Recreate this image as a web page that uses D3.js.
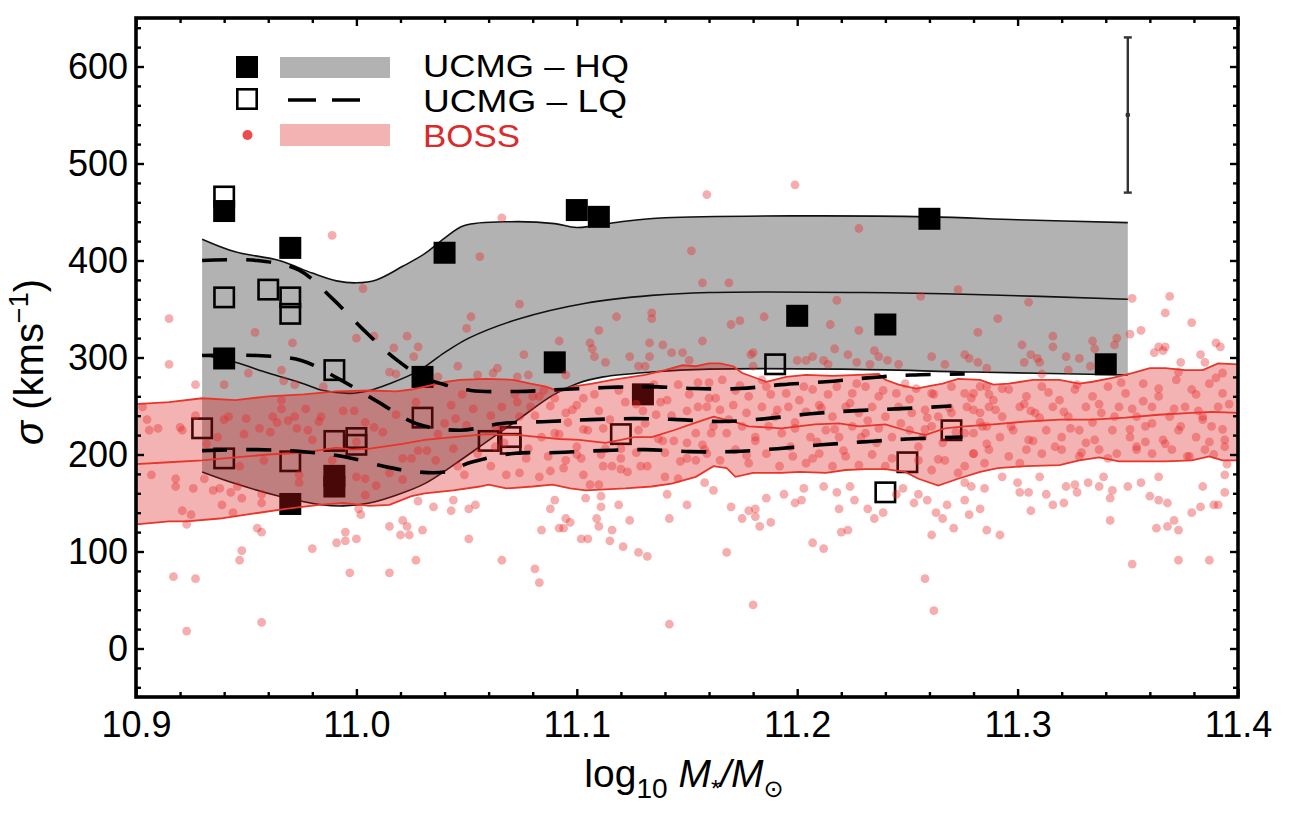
<!DOCTYPE html>
<html lang="en">
<head>
<meta charset="UTF-8" />
<title>UCMG vs BOSS velocity dispersion</title>
<script src="https://d3js.org/d3.v7.min.js"></script>
<style>
  body { margin: 0; background: #fff; }
  svg { display: block; font-family: "Liberation Sans", Arial, Helvetica, sans-serif; }
</style>
</head>
<body>
<svg id="chart" width="1296" height="816"></svg>
<script>
// ---- data ----
const xTicks = [10.9, 11.0, 11.1, 11.2, 11.3, 11.4];
const xTickLabels = ["10.9", "11.0", "11.1", "11.2", "11.3", "11.4"];
const yTicks = [0, 100, 200, 300, 400, 500, 600];

// UCMG high quality (filled squares)
const hqX = [10.94, 10.97, 11.04, 11.10, 11.11, 11.26, 10.94, 11.03, 11.09, 11.20, 11.24, 11.34, 11.13, 10.99, 10.99, 10.97];
const hqY = [451, 413, 408, 452, 445, 443, 299, 280, 295, 343, 334, 293, 262, 178, 167, 149];

// UCMG low quality (open squares)
const lqX = [10.94, 10.94, 10.96, 10.97, 10.97, 10.99, 11.03, 10.93, 10.94, 10.97, 10.99, 11.00, 11.00, 11.06, 11.07, 11.07, 11.12, 11.19, 11.27, 11.25, 11.24];
const lqY = [466, 362, 370, 362, 345, 287, 238, 227, 196, 193, 214, 217, 210, 214, 218, 211, 221, 293, 225, 192, 161];

// HQ band: upper, median, lower
const hqUpper = [[10.93,422],[10.945,409],[10.965,400],[10.98,387],[10.991,379],[11.0,377],[11.009,380],[11.021,394],[11.031,407],[11.04,423],[11.049,436],[11.07,440],[11.09,438],[11.1,434],[11.12,440],[11.14,444],[11.2,446],[11.26,445],[11.3,442],[11.35,439]];
const hqMedian = [[10.93,303],[10.945,295],[10.96,284],[10.976,273],[10.985,266],[10.997,263],[11.006,266],[11.015,273],[11.028,286],[11.04,305],[11.051,320],[11.074,340],[11.104,356],[11.134,364],[11.16,367],[11.23,367],[11.28,365],[11.35,360]];
const hqLower = [[10.93,182],[10.945,170],[10.965,157],[10.985,148],[10.994,147],[11.006,150],[11.018,158],[11.031,170],[11.044,189],[11.059,213],[11.074,237],[11.089,261],[11.1,273],[11.112,280],[11.134,285],[11.16,288],[11.22,288],[11.28,285],[11.35,282]];

// LQ dashed: upper, median, lower
const lqUpper = [[10.93,400],[10.955,400],[10.974,390],[10.989,361],[11.003,329],[11.018,298],[11.03,280],[11.04,272],[11.052,266],[11.073,265],[11.093,267],[11.113,269],[11.133,270],[11.153,268],[11.174,268],[11.193,272],[11.213,275],[11.232,279],[11.252,282],[11.276,283]];
const lqMedian = [[10.93,302],[10.955,302],[10.975,297],[10.992,278],[11.01,254],[11.027,232],[11.047,225],[11.066,232],[11.087,234],[11.106,236],[11.126,237],[11.146,236],[11.166,234],[11.186,237],[11.206,242],[11.225,245],[11.245,247],[11.27,250]];
const lqLower = [[10.93,204],[10.955,205],[10.975,203],[10.994,198],[11.014,187],[11.028,182],[11.04,182],[11.052,192],[11.071,201],[11.091,202],[11.111,204],[11.131,205],[11.151,203],[11.171,203],[11.191,206],[11.211,210],[11.23,213],[11.25,216],[11.275,218]];

// BOSS running percentiles
const bossUpper = [[10.9,252],[10.915,254],[10.93,258],[10.945,256],[10.96,260],[10.976,262],[10.991,265],[11.006,266],[11.018,265],[11.025,267],[11.031,270],[11.041,275],[11.047,277],[11.059,278],[11.071,277],[11.079,273],[11.086,270],[11.092,265],[11.098,270],[11.107,273],[11.116,277],[11.122,279],[11.131,282],[11.14,287],[11.148,292],[11.154,291],[11.16,294],[11.165,294],[11.171,291],[11.175,284],[11.186,275],[11.195,280],[11.204,282],[11.216,281],[11.228,282],[11.237,283],[11.24,277],[11.246,272],[11.254,268],[11.261,271],[11.266,273],[11.273,278],[11.283,277],[11.289,272],[11.296,273],[11.307,277],[11.319,277],[11.328,273],[11.334,275],[11.343,279],[11.352,284],[11.36,289],[11.367,289],[11.376,287],[11.384,287],[11.391,294],[11.4,293]];
const bossMedian = [[10.9,190],[10.915,192],[10.93,194],[10.945,197],[10.96,200],[10.976,202],[10.985,205],[10.991,207],[10.998,205],[11.006,206],[11.021,211],[11.031,215],[11.044,218],[11.059,221],[11.074,220],[11.083,218],[11.092,216],[11.101,215],[11.113,212],[11.12,215],[11.126,218],[11.134,218],[11.144,225],[11.153,232],[11.162,239],[11.171,234],[11.178,229],[11.193,227],[11.208,231],[11.219,232],[11.228,229],[11.24,231],[11.249,225],[11.258,220],[11.267,227],[11.276,229],[11.289,231],[11.304,234],[11.319,236],[11.334,236],[11.349,238],[11.364,241],[11.379,243],[11.388,244],[11.4,243]];
const bossLower = [[10.9,128],[10.915,131],[10.923,131],[10.938,134],[10.953,139],[10.968,144],[10.983,148],[10.994,150],[11.006,147],[11.015,148],[11.025,157],[11.031,160],[11.044,163],[11.056,167],[11.06,169],[11.068,165],[11.08,167],[11.089,169],[11.097,165],[11.104,163],[11.113,164],[11.122,165],[11.134,167],[11.143,170],[11.154,177],[11.162,188],[11.168,186],[11.172,177],[11.18,181],[11.193,181],[11.201,182],[11.213,181],[11.222,184],[11.231,185],[11.24,185],[11.249,182],[11.255,175],[11.264,168],[11.273,175],[11.283,182],[11.291,186],[11.304,188],[11.319,189],[11.328,194],[11.337,197],[11.346,193],[11.358,193],[11.367,193],[11.379,194],[11.387,198],[11.393,194],[11.4,194]];

// BOSS galaxies (x = log10 M*, y = sigma)
const bossPoints = [
  [10.989,426],[10.915,340],[10.915,293],[10.927,272],[11.003,371],[10.954,326],[10.971,315],[11.0,320],[11.008,322],[11.023,322],[11.028,311],[11.026,301],[11.017,310],[10.966,287],[10.951,284],[10.94,272],[10.967,276],[10.972,272],[10.985,270],[11.015,285],[11.018,283],
  [10.903,249],[10.905,236],[10.906,225],[10.91,227],[10.92,228],[10.921,225],[10.927,240],[10.932,211],[10.937,218],[10.94,236],[10.942,239],[10.95,237],[10.949,221],[10.956,227],[10.958,194],[10.961,223],[10.962,239],[10.964,233],[10.966,247],[10.966,256],[10.969,235],[10.972,239],[10.973,227],[10.977,247],[10.978,225],[10.98,215],[10.983,234],[10.984,239],[10.989,194],[10.994,245],[10.999,245],[11.0,213],[11.004,233],[11.008,228],[11.012,223],[11.015,181],[11.018,241],[11.021,196],[11.025,196],[11.027,254],[11.028,204],
  [10.907,179],[10.918,175],[10.918,167],[10.926,165],[10.931,175],[10.935,163],[10.938,165],[10.943,161],[10.946,167],[10.948,155],[10.957,159],[10.957,150],[10.921,142],[10.925,138],[10.939,148],[10.944,140],[10.923,128],[10.947,188],[10.974,179],[10.974,171],[11.0,177],[11.004,175],[11.004,158],[11.009,168],[11.021,174],[11.028,152],[11.001,144],[11.002,138],
  [10.955,124],[10.957,120],[10.948,101],[10.947,91],[10.917,74],[10.927,72],[10.923,18],[10.957,27],[10.98,103],[10.991,109],[10.995,120],[10.995,111],[11.0,113],[10.997,78],[11.015,126],[11.021,132],[11.023,126],[11.02,117],[11.024,117],[11.03,122],[11.027,91],[11.015,78],
  [11.066,444],[11.159,468],[11.199,478],
  [11.056,404],[11.152,410],[11.157,377],[11.074,355],[11.052,342],[11.05,330],[11.118,342],[11.134,346],[11.134,340],[11.11,328],[11.092,317],[11.106,315],[11.107,309],[11.108,301],[11.133,315],[11.139,313],[11.143,305],[11.148,305],[11.157,317],[11.124,301],[11.133,301],[11.113,295],[11.128,291],[11.131,291],[11.076,303],[11.046,291],[11.064,289],[11.062,284],[11.055,282],[11.078,282],[11.095,282],[11.073,280],[11.037,280],[11.151,297],
  [11.043,251],[11.053,247],[11.045,237],[11.05,230],[11.037,221],[11.032,204],[11.044,206],[11.036,194],[11.063,229],[11.066,249],[11.073,254],[11.079,249],[11.074,239],[11.08,260],[11.083,260],[11.09,258],[11.095,243],[11.1,251],[11.103,258],[11.11,245],[11.096,233],[11.092,221],[11.105,225],[11.112,227],[11.122,254],[11.13,245],[11.138,254],[11.141,256],[11.15,245],[11.155,249],[11.16,258],[11.146,272],[11.155,274],[11.136,241],[11.128,225],[11.137,216],[11.144,214],[11.15,212],[11.157,210],[11.154,194],[11.15,196],[11.146,175],[11.14,177],[11.132,188],[11.129,188],[11.12,185],[11.116,188],[11.112,188],[11.103,179],[11.106,169],[11.11,169],[11.088,183],[11.083,177],[11.074,181],[11.068,179],[11.061,188],[11.049,179],[11.046,188],[11.095,194],[11.102,196],[11.12,196],[11.127,202],[11.14,202],[11.087,198],[11.078,206],[11.084,218],[11.063,208],[11.1,208],[11.113,206],
  [11.04,232],[11.048,262],[11.055,201],[11.061,240],[11.067,212],[11.072,262],[11.077,196],[11.081,240],[11.085,266],[11.09,222],[11.094,186],[11.098,246],[11.103,226],[11.108,262],[11.111,200],[11.115,236],[11.119,266],[11.123,182],[11.127,252],[11.131,232],[11.135,272],[11.139,214],[11.143,240],[11.147,193],[11.151,262],[11.154,222],[11.12,206],[11.1,200],[11.066,228],[11.088,250],
  [11.035,146],[11.044,153],[11.043,142],[11.051,144],[11.054,148],[11.051,113],[11.066,91],[11.081,82],[11.083,68],[11.088,144],[11.09,153],[11.084,122],[11.095,134],[11.097,130],[11.092,124],[11.094,124],[11.102,113],[11.105,113],[11.109,134],[11.11,126],[11.111,146],[11.111,157],[11.116,122],[11.115,111],[11.119,148],[11.121,105],[11.124,132],[11.128,99],[11.132,95],[11.142,134],[11.15,148],[11.142,25],[11.141,159],[11.104,155],
  [11.228,433],[11.169,377],[11.273,370],[11.256,363],[11.218,359],[11.185,342],[11.174,338],[11.17,334],[11.215,334],[11.228,328],[11.282,326],[11.217,309],[11.223,303],[11.235,307],[11.237,301],[11.241,297],[11.179,303],[11.18,305],[11.2,297],[11.204,297],[11.207,301],[11.212,297],[11.214,293],[11.227,295],[11.233,293],[11.246,293],[11.261,301],[11.267,293],[11.276,303],[11.278,299],[11.282,295],[11.18,291],
  [11.16,274],[11.166,277],[11.172,266],[11.178,260],[11.186,270],[11.195,263],[11.201,256],[11.207,267],[11.218,270],[11.225,263],[11.231,270],[11.237,260],[11.245,263],[11.254,268],[11.261,263],[11.27,270],[11.28,263],[11.286,270],
  [11.159,249],[11.165,246],[11.171,251],[11.177,243],[11.184,249],[11.19,239],[11.196,249],[11.204,244],[11.21,251],[11.216,239],[11.222,249],[11.228,243],[11.234,249],[11.24,239],[11.246,249],[11.252,243],[11.258,246],[11.264,239],[11.27,243],[11.277,249],[11.283,243],
  [11.162,229],[11.168,222],[11.175,229],[11.181,218],[11.187,229],[11.193,222],[11.199,227],[11.206,218],[11.213,225],[11.219,218],[11.225,229],[11.231,222],[11.237,227],[11.243,218],[11.251,225],[11.257,218],[11.261,229],[11.28,222],[11.286,229],
  [11.159,201],[11.165,194],[11.172,205],[11.178,191],[11.186,201],[11.192,188],[11.198,198],[11.204,191],[11.21,201],[11.216,188],[11.222,198],[11.228,189],[11.234,200],[11.24,188],[11.255,194],[11.261,184],[11.267,194],[11.273,181],[11.28,201],[11.285,191],
  [11.158,171],[11.162,163],[11.17,146],[11.175,134],[11.178,142],[11.181,136],[11.181,144],[11.183,126],[11.188,130],[11.186,155],[11.194,159],[11.199,150],[11.202,153],[11.203,165],[11.212,167],[11.218,161],[11.226,153],[11.219,144],[11.232,144],[11.235,134],[11.239,140],[11.22,120],[11.223,122],[11.207,109],[11.212,103],[11.168,99],[11.18,45],[11.258,72],[11.262,39],[11.261,117],[11.271,124],[11.266,134],[11.263,140],[11.268,148],[11.259,153],[11.255,159],[11.253,150],[11.276,153],[11.283,144],[11.278,138],[11.286,122],[11.245,159],[11.248,165],[11.224,167],
  [11.305,357],[11.291,340],[11.316,322],[11.316,311],[11.302,313],[11.334,317],[11.335,309],[11.344,313],[11.345,320],[11.306,303],[11.309,299],[11.322,301],[11.328,299],[11.303,295],[11.31,295],[11.286,289],[11.323,287],[11.333,291],
  [11.352,361],[11.369,363],[11.367,346],[11.379,336],[11.351,324],[11.356,328],[11.364,311],[11.367,311],[11.366,307],[11.362,305],[11.39,315],[11.392,311],[11.383,303],[11.374,295],[11.385,295],
  [11.276,263],[11.283,270],[11.289,256],[11.296,267],[11.304,260],[11.311,270],[11.319,256],[11.326,267],[11.334,260],[11.341,270],[11.349,263],[11.357,273],[11.364,260],[11.372,277],[11.379,267],[11.387,273],[11.393,284],[11.393,263],
  [11.28,246],[11.287,249],[11.293,239],[11.301,249],[11.308,243],[11.316,249],[11.323,239],[11.331,249],[11.338,243],[11.346,249],[11.354,239],[11.361,249],[11.369,239],[11.376,249],[11.384,239],[11.391,249],
  [11.276,222],[11.284,229],[11.292,218],[11.298,225],[11.305,215],[11.313,225],[11.32,218],[11.328,225],[11.335,215],[11.343,225],[11.351,218],[11.358,229],[11.366,215],[11.373,225],[11.381,218],[11.388,229],[11.394,215],
  [11.28,201],[11.287,205],[11.296,198],[11.304,205],[11.311,201],[11.32,205],[11.328,198],[11.337,205],[11.345,201],[11.354,208],[11.361,201],[11.37,205],[11.378,198],[11.385,205],[11.394,208],
  [11.163,258],[11.169,236],[11.174,271],[11.181,214],[11.188,262],[11.191,246],[11.197,208],[11.199,233],[11.203,270],[11.209,213],[11.214,262],[11.217,226],[11.221,204],[11.224,253],[11.227,273],[11.232,235],[11.236,212],[11.239,266],[11.243,196],[11.247,232],[11.251,257],[11.255,208],[11.259,238],[11.262,262],[11.266,212],[11.269,248],[11.272,223],[11.276,188],[11.279,258],[11.283,233],[11.286,211],[11.29,246],[11.293,268],[11.297,229],[11.301,191],[11.303,252],[11.307,214],[11.31,238],[11.314,264],[11.317,208],[11.321,244],[11.324,227],[11.327,272],[11.331,212],[11.334,233],[11.337,252],[11.341,196],[11.344,239],[11.347,274],[11.351,226],[11.354,205],[11.357,255],[11.361,232],[11.364,268],[11.367,211],[11.371,247],[11.374,229],[11.377,198],[11.381,262],[11.384,236],[11.387,213],[11.39,279],[11.393,226],[11.396,252],[11.161,222],[11.177,199],[11.184,277],[11.207,196],[11.229,218],[11.249,273],[11.264,195],[11.287,262],[11.311,283],[11.329,202],[11.352,247],[11.373,285],[11.389,200],[11.158,205],[11.211,248],[11.258,226],[11.306,245],[11.358,213],[11.382,245],
  [11.276,171],[11.279,167],[11.285,165],[11.292,117],[11.293,177],[11.3,171],[11.301,161],[11.305,161],[11.306,142],[11.31,177],[11.313,159],[11.316,148],[11.321,150],[11.322,167],[11.326,169],[11.327,161],[11.332,171],[11.337,167],[11.339,177],[11.342,155],[11.342,132],[11.343,163],[11.35,167],[11.356,171],[11.36,157],[11.364,153],[11.368,150],[11.364,177],[11.363,124],[11.368,126],[11.371,132],[11.373,122],[11.352,87],[11.373,91],[11.387,91],[11.379,140],[11.383,146],[11.384,167],[11.389,148],[11.391,148],[11.394,161],[11.394,179],[11.395,190]
];

// representative error bar (x, low, mid, high)
const errX = [11.35];
const errLo = [470];
const errMid = [550];
const errHi = [630];

// ---- layout ----
const svg = d3.select("#chart");
const mLeft = 136, mRight = 1238, mTop = 18, mBottom = 697;

const x = d3.scaleLinear().domain([10.9, 11.4]).range([mLeft, mRight]);
const y = d3.scaleLinear().domain([-50, 650]).range([mBottom, mTop]);

svg.append("clipPath").attr("id", "plotClip")
  .append("rect")
  .attr("x", mLeft).attr("y", mTop)
  .attr("width", mRight - mLeft).attr("height", mBottom - mTop);

const plot = svg.append("g").attr("clip-path", "url(#plotClip)");

const smooth = d3.line().x(d => x(d[0])).y(d => y(d[1])).curve(d3.curveCatmullRom.alpha(0.5));
const jagged = d3.line().x(d => x(d[0])).y(d => y(d[1]));

// band path = upper edge, then lower edge reversed
function bandPath(gen, upper, lower) {
  return gen(upper) + gen(lower.slice().reverse()).replace(/^M/, "L") + "Z";
}

// HQ grey band
plot.append("path")
  .attr("d", bandPath(smooth, hqUpper, hqLower))
  .attr("fill", "#b2b2b2");

[hqUpper, hqMedian, hqLower].forEach(s => {
  plot.append("path")
    .datum(s)
    .attr("d", smooth)
    .attr("fill", "none")
    .attr("stroke", "#111")
    .attr("stroke-width", 1.6);
});

// UCMG markers
const sq = 22;
plot.selectAll(".hq")
  .data(hqX.map((v, i) => [v, hqY[i]]))
  .enter().append("rect")
    .attr("class", "hq")
    .attr("x", d => x(d[0]) - sq / 2)
    .attr("y", d => y(d[1]) - sq / 2)
    .attr("width", sq).attr("height", sq)
    .attr("fill", "#000");

plot.selectAll(".lq")
  .data(lqX.map((v, i) => [v, lqY[i]]))
  .enter().append("rect")
    .attr("class", "lq")
    .attr("x", d => x(d[0]) - (sq - 2.6) / 2)
    .attr("y", d => y(d[1]) - (sq - 2.6) / 2)
    .attr("width", sq - 2.6).attr("height", sq - 2.6)
    .attr("fill", "none")
    .attr("stroke", "#000")
    .attr("stroke-width", 2.6);

// BOSS band, points and percentile lines
plot.append("path")
  .attr("d", bandPath(jagged, bossUpper, bossLower))
  .attr("fill", "rgb(222,24,24)")
  .attr("fill-opacity", 0.33);

plot.selectAll(".boss")
  .data(bossPoints)
  .enter().append("circle")
    .attr("class", "boss")
    .attr("cx", d => x(d[0]))
    .attr("cy", d => y(d[1]))
    .attr("r", 4.4)
    .attr("fill", "rgb(232,40,40)")
    .attr("fill-opacity", 0.38);

[bossUpper, bossMedian, bossLower].forEach(s => {
  plot.append("path")
    .datum(s)
    .attr("d", jagged)
    .attr("fill", "none")
    .attr("stroke", "#e8352b")
    .attr("stroke-width", 1.8);
});

// LQ dashed percentile lines
[lqUpper, lqMedian, lqLower].forEach(s => {
  plot.append("path")
    .datum(s)
    .attr("d", smooth)
    .attr("fill", "none")
    .attr("stroke", "#000")
    .attr("stroke-width", 3.6)
    .attr("stroke-dasharray", "25,19");
});

// error bar
errX.forEach((ex, i) => {
  const g = svg.append("g").attr("stroke", "#333").attr("stroke-width", 2.4);
  g.append("line").attr("x1", x(ex)).attr("x2", x(ex)).attr("y1", y(errLo[i])).attr("y2", y(errHi[i]));
  g.append("line").attr("x1", x(ex) - 4).attr("x2", x(ex) + 4).attr("y1", y(errLo[i])).attr("y2", y(errLo[i]));
  g.append("line").attr("x1", x(ex) - 4).attr("x2", x(ex) + 4).attr("y1", y(errHi[i])).attr("y2", y(errHi[i]));
  svg.append("circle").attr("cx", x(ex)).attr("cy", y(errMid[i])).attr("r", 2.4).attr("fill", "#333");
});

// ---- axes: inward ticks on all four sides ----
const xMinor = d3.range(10.9, 11.4001, 0.02).filter(v => Math.abs(v * 10 - Math.round(v * 10)) > 1e-6);
const yMinor = d3.range(-40, 650, 20).filter(v => v % 100 !== 0);

function styleAxis(g) {
  g.select(".domain").remove();
  g.selectAll(".tick line").attr("stroke", "#000").attr("stroke-width", 2.4);
}

svg.append("g").attr("transform", `translate(0,${mBottom})`)
  .call(d3.axisBottom(x).tickValues(xTicks).tickSizeInner(-8).tickSizeOuter(0).tickPadding(14)
    .tickFormat((d, i) => xTickLabels[i]))
  .call(styleAxis)
  .call(g => g.selectAll("text").attr("font-size", 36).attr("fill", "#000")
    .attr("font-family", "Liberation Sans, Arial, sans-serif"));
svg.append("g").attr("transform", `translate(0,${mBottom})`)
  .call(d3.axisBottom(x).tickValues(xMinor).tickSize(-5).tickFormat(""))
  .call(styleAxis);

svg.append("g").attr("transform", `translate(0,${mTop})`)
  .call(d3.axisTop(x).tickValues(xTicks).tickSize(-8).tickFormat(""))
  .call(styleAxis);
svg.append("g").attr("transform", `translate(0,${mTop})`)
  .call(d3.axisTop(x).tickValues(xMinor).tickSize(-5).tickFormat(""))
  .call(styleAxis);

svg.append("g").attr("transform", `translate(${mLeft},0)`)
  .call(d3.axisLeft(y).tickValues(yTicks).tickSizeInner(-8).tickSizeOuter(0).tickPadding(8))
  .call(styleAxis)
  .call(g => g.selectAll("text").attr("font-size", 36).attr("fill", "#000")
    .attr("font-family", "Liberation Sans, Arial, sans-serif"));
svg.append("g").attr("transform", `translate(${mLeft},0)`)
  .call(d3.axisLeft(y).tickValues(yMinor).tickSize(-5).tickFormat(""))
  .call(styleAxis);

svg.append("g").attr("transform", `translate(${mRight},0)`)
  .call(d3.axisRight(y).tickValues(yTicks).tickSize(-8).tickFormat(""))
  .call(styleAxis);
svg.append("g").attr("transform", `translate(${mRight},0)`)
  .call(d3.axisRight(y).tickValues(yMinor).tickSize(-5).tickFormat(""))
  .call(styleAxis);

// frame
svg.append("rect")
  .attr("x", mLeft).attr("y", mTop)
  .attr("width", mRight - mLeft).attr("height", mBottom - mTop)
  .attr("fill", "none").attr("stroke", "#000").attr("stroke-width", 3.6);

// axis titles
const xt = svg.append("text")
  .attr("x", (mLeft + mRight) / 2 - 3).attr("y", 787)
  .attr("text-anchor", "middle").attr("font-size", 39).attr("fill", "#000");
xt.append("tspan").text("log");
xt.append("tspan").attr("font-size", 28).attr("dy", 11).text("10");
xt.append("tspan").attr("dy", -11).text(" ");
xt.append("tspan").attr("font-style", "italic").text("M");
xt.append("tspan").attr("font-size", 24).attr("dy", 10).text("*");
xt.append("tspan").attr("font-style", "italic").attr("dy", -10).text("/");
xt.append("tspan").attr("font-style", "italic").text("M");
xt.append("tspan").attr("font-size", 24).attr("dy", 10)
  .attr("font-family", "DejaVu Sans").text("\u2299");

const yt = svg.append("text")
  .attr("transform", "translate(43,362) rotate(-90)")
  .attr("text-anchor", "middle").attr("font-size", 40).attr("fill", "#000");
yt.append("tspan").attr("font-style", "italic").text("\u03c3");
yt.append("tspan").text(" (kms");
yt.append("tspan").attr("font-size", 27).attr("dy", -15).text("\u22121");
yt.append("tspan").attr("dy", 15).text(")");

// ---- legend ----
const lg = svg.append("g");
const legendFont = 30.5;
lg.append("rect").attr("x", 236).attr("y", 56).attr("width", 22).attr("height", 22).attr("fill", "#000");
lg.append("rect").attr("x", 280).attr("y", 57).attr("width", 110).attr("height", 21).attr("fill", "#b2b2b2");
lg.append("text").attr("x", 423).attr("y", 76.5).attr("font-size", legendFont)
  .attr("textLength", 206).attr("lengthAdjust", "spacingAndGlyphs").text("UCMG \u2013 HQ");

lg.append("rect").attr("x", 237.3).attr("y", 89.3).attr("width", 19.4).attr("height", 19.4)
  .attr("fill", "none").attr("stroke", "#000").attr("stroke-width", 2.6);
lg.append("line").attr("x1", 288).attr("x2", 360).attr("y1", 100).attr("y2", 100)
  .attr("stroke", "#000").attr("stroke-width", 3.6).attr("stroke-dasharray", "28,16");
lg.append("text").attr("x", 423).attr("y", 111.5).attr("font-size", legendFont)
  .attr("textLength", 204).attr("lengthAdjust", "spacingAndGlyphs").text("UCMG \u2013 LQ");

lg.append("circle").attr("cx", 247.5).attr("cy", 135).attr("r", 5).attr("fill", "#ef4a4a");
lg.append("rect").attr("x", 280).attr("y", 124).attr("width", 110).attr("height", 22)
  .attr("fill", "rgb(222,24,24)").attr("fill-opacity", 0.33);
lg.append("text").attr("x", 423).attr("y", 146.5).attr("font-size", legendFont)
  .attr("textLength", 97).attr("lengthAdjust", "spacingAndGlyphs")
  .attr("fill", "#d92b2b").text("BOSS");
</script>
</body>
</html>
